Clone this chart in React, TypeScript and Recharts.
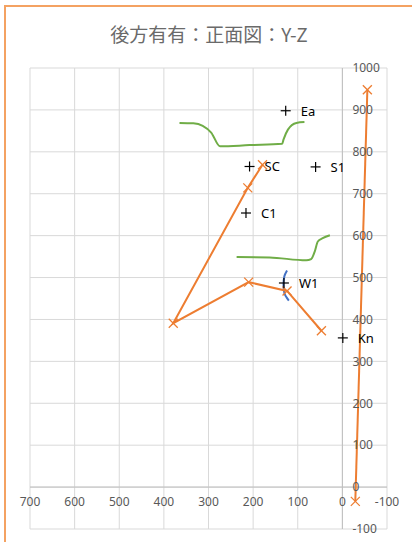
import { ScatterChart, Scatter, XAxis, YAxis, CartesianGrid, ReferenceLine, ReferenceDot } from "recharts"

// axis ticks
const xTicks = [700, 600, 500, 400, 300, 200, 100, 0, -100]
const yTicks = [-100, 0, 100, 200, 300, 400, 500, 600, 700, 800, 900, 1000]

// orange polyline (front)
const frontLine = [
  { x: 179, y: 769 },
  { x: 212, y: 714 },
  { x: 379, y: 391 },
  { x: 210, y: 489 },
  { x: 124, y: 468 },
  { x: 47, y: 373 },
]

// orange vertical line (rear)
const rearLine = [
  { x: -29, y: -34 },
  { x: -56, y: 948 },
]

// labelled points
const namedPoints = [
  { name: "Ea", x: 127, y: 898 },
  { name: "SC", x: 208, y: 765 },
  { name: "S1", x: 60, y: 764 },
  { name: "C1", x: 216, y: 654 },
  { name: "W1", x: 131, y: 487 },
  { name: "Kn", x: -1, y: 356 },
]

// green outlines
const upperCurve = [
  { x: 365, y: 869 },
  { x: 334, y: 868 },
  { x: 313, y: 862 },
  { x: 294, y: 846 },
  { x: 274, y: 813 },
  { x: 208, y: 816 },
  { x: 135, y: 819 },
  { x: 132, y: 829 },
  { x: 122, y: 853 },
  { x: 103, y: 869 },
  { x: 85, y: 871 },
]

const lowerCurve = [
  { x: 237, y: 549 },
  { x: 163, y: 548 },
  { x: 81, y: 541 },
  { x: 70, y: 544 },
  { x: 62, y: 562 },
  { x: 55, y: 586 },
  { x: 44, y: 594 },
  { x: 28, y: 601 },
]

// blue arc near W1
const blueArc = [
  { x: 124, y: 517 },
  { x: 130, y: 503 },
  { x: 132, y: 483 },
  { x: 130, y: 463 },
  { x: 120, y: 445 },
]

const ORANGE = "#ED7D31"
const GREEN = "#70AD47"
const BLUE = "#4472C4"
const TICK = "#595959"
const FONT = "'Noto Sans', 'Noto Sans CJK JP', sans-serif"

const XMark = (props: any) => {
  const { cx, cy } = props
  const s = 4.5
  return (
    <g stroke={ORANGE} strokeWidth={1.3}>
      <line x1={cx - s} y1={cy - s} x2={cx + s} y2={cy + s} />
      <line x1={cx - s} y1={cy + s} x2={cx + s} y2={cy - s} />
    </g>
  )
}

const PlusMark = (props: any) => {
  const { cx, cy, payload } = props
  const s = 5
  return (
    <g>
      <g stroke="#000" strokeWidth={1.2}>
        <line x1={cx - s} y1={cy} x2={cx + s} y2={cy} />
        <line x1={cx} y1={cy - s} x2={cx} y2={cy + s} />
      </g>
      <text x={cx + 15} y={cy} dominantBaseline="central" fontSize={13} fill="#000" fontFamily={FONT}>
        {payload.name}
      </text>
    </g>
  )
}

const NoMark = () => <g />

export default function App() {
  return (
    <div style={{ position: "absolute", left: 0, top: 0, width: 412, height: 542, overflow: "hidden", background: "#fff" }}>
      <div
        style={{
          position: "absolute",
          left: 4,
          top: 5,
          width: 440,
          height: 580,
          border: "2px solid #F4A262",
          boxSizing: "border-box",
        }}
      />
      <div
        style={{
          position: "absolute",
          left: 0,
          top: 22,
          width: 418,
          textAlign: "center",
          fontFamily: "'Noto Sans CJK JP', 'Noto Sans', sans-serif",
          fontSize: 19,
          color: "#6a6a6a",
          lineHeight: "24px",
        }}
      >
        後方有有：正面図：Y-Z
      </div>
      <div style={{ position: "absolute", left: 0, top: 0 }}>
        <ScatterChart width={412} height={542} margin={{ top: 68, right: 25, bottom: 13, left: 30 }}>
          <CartesianGrid stroke="#d9d9d9" strokeWidth={1} />
          <XAxis type="number" dataKey="x" domain={[-100, 700]} ticks={xTicks} reversed hide allowDataOverflow />
          <YAxis type="number" dataKey="y" domain={[-100, 1000]} ticks={yTicks} hide allowDataOverflow />
          <ReferenceLine x={0} stroke="#bfbfbf" strokeWidth={1} />
          <ReferenceLine y={0} stroke="#bfbfbf" strokeWidth={1} />
          {xTicks.map((v) => (
            <ReferenceDot
              key={"xt" + v}
              x={v}
              y={0}
              r={0}
              fill="none"
              stroke="none"
              label={{ value: String(v), position: "bottom", offset: 10, fill: TICK, fontSize: 12, fontFamily: FONT }}
            />
          ))}
          {yTicks.map((v) => (
            <ReferenceDot
              key={"yt" + v}
              x={0}
              y={v}
              r={0}
              fill="none"
              stroke="none"
              label={{ value: String(v), position: "right", offset: 10, fill: TICK, fontSize: 12, fontFamily: FONT }}
            />
          ))}
          <Scatter data={upperCurve} line={{ stroke: GREEN, strokeWidth: 2 }} lineJointType="monotoneX" shape={NoMark} isAnimationActive={false} />
          <Scatter data={lowerCurve} line={{ stroke: GREEN, strokeWidth: 2 }} lineJointType="monotoneX" shape={NoMark} isAnimationActive={false} />
          <Scatter data={blueArc} line={{ stroke: BLUE, strokeWidth: 2 }} lineJointType="monotoneY" shape={NoMark} isAnimationActive={false} />
          <Scatter data={frontLine} line={{ stroke: ORANGE, strokeWidth: 2 }} shape={XMark} isAnimationActive={false} />
          <Scatter data={rearLine} line={{ stroke: ORANGE, strokeWidth: 2 }} shape={XMark} isAnimationActive={false} />
          <Scatter data={namedPoints} shape={PlusMark} isAnimationActive={false} />
        </ScatterChart>
      </div>
    </div>
  )
}
